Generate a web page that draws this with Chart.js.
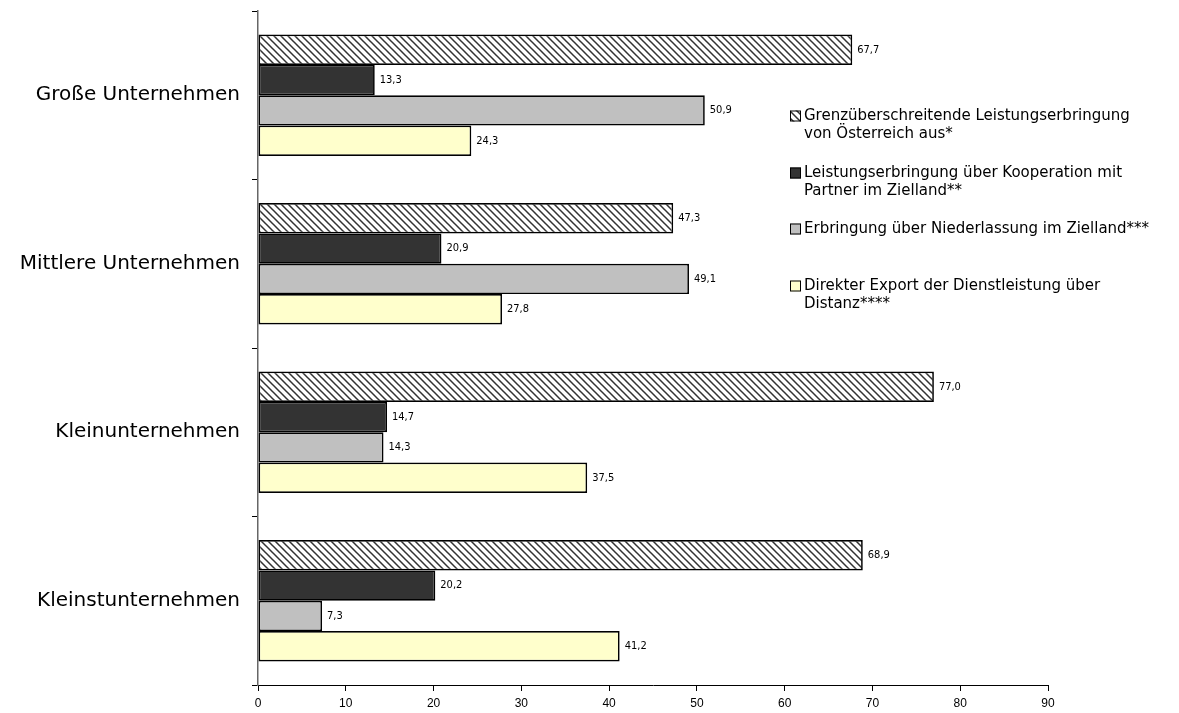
<!DOCTYPE html>
<html>
<head>
<meta charset="utf-8">
<script src="https://cdn.jsdelivr.net/npm/chart.js@4"></script>
<style>
  html, body { margin: 0; padding: 0; background: #fff; }
  #wrap { width: 1179px; height: 713px; position: relative; }
</style>
</head>
<body>
<div id="wrap"><canvas id="chart" width="1179" height="713"></canvas></div>
<script>
// Data
const categories = ['Große Unternehmen', 'Mittlere Unternehmen', 'Kleinunternehmen', 'Kleinstunternehmen'];
const seriesNames = [
    ['Grenzüberschreitende Leistungserbringung', 'von Österreich aus*'],
    ['Leistungserbringung über Kooperation mit', 'Partner im Zielland**'],
    ['Erbringung über Niederlassung im Zielland***'],
    ['Direkter Export der Dienstleistung über', 'Distanz****']
];
const grenz = [67.7, 47.3, 77.0, 68.9];
const kooperation = [13.3, 20.9, 14.7, 20.2];
const niederlassung = [50.9, 49.1, 14.3, 7.3];
const direkt = [24.3, 27.8, 37.5, 41.2];
const xTicks = [0, 10, 20, 30, 40, 50, 60, 70, 80, 90];

const NUM_FONT = "'Liberation Sans Narrow', 'DejaVu Sans Condensed', 'Arial Narrow', sans-serif";
const TICK_FONT = "'Liberation Sans', Arial, sans-serif";
const TXT_FONT = "'DejaVu Sans', sans-serif";

function makeHatch() {
    const s = 7;
    const c = document.createElement('canvas');
    c.width = s; c.height = s;
    const g = c.getContext('2d');
    g.fillStyle = '#fff';
    g.fillRect(0, 0, s, s);
    g.strokeStyle = '#333';
    g.lineWidth = 1.5;
    g.beginPath();
    g.moveTo(-1, -1); g.lineTo(s + 1, s + 1);
    g.moveTo(-1, s - 1); g.lineTo(1, s + 1);
    g.moveTo(s - 1, -1); g.lineTo(s + 1, 1);
    g.stroke();
    return g.createPattern(c, 'repeat');
}
const hatch = makeHatch();
const fills = [hatch, '#333333', '#C0C0C0', '#FFFFCC'];

// value labels at the end of each bar
const valueLabels = {
    id: 'valueLabels',
    afterDatasetsDraw(chart) {
        const ctx = chart.ctx;
        ctx.save();
        ctx.font = '11px ' + NUM_FONT;
        ctx.fillStyle = '#000';
        ctx.textBaseline = 'middle';
        ctx.textAlign = 'left';
        chart.data.datasets.forEach((ds, i) => {
            chart.getDatasetMeta(i).data.forEach((bar, j) => {
                ctx.fillText(ds.data[j].toFixed(1).replace('.', ','), bar.x + 5, bar.y);
            });
        });
        ctx.restore();
    }
};

// legend drawn on the right side
const sideLegend = {
    id: 'sideLegend',
    afterDraw(chart) {
        const ctx = chart.ctx;
        const tops = [116, 173, 229, 286];
        ctx.save();
        ctx.font = '15px ' + TXT_FONT;
        ctx.textBaseline = 'middle';
        ctx.textAlign = 'left';
        seriesNames.forEach((lines, i) => {
            const y = tops[i];
            ctx.fillStyle = fills[i];
            ctx.fillRect(790, y - 5.5, 11, 11);
            ctx.strokeStyle = '#000';
            ctx.lineWidth = 1;
            ctx.strokeRect(790.5, y - 5, 10, 10);
            ctx.fillStyle = '#000';
            lines.forEach((t, k) => ctx.fillText(t, 804, y + k * 18.5));
        });
        ctx.restore();
    }
};

const datasets = [grenz, kooperation, niederlassung, direkt].map((d, i) => ({
    label: seriesNames[i].join(' '),
    data: d,
    backgroundColor: fills[i],
    borderColor: '#000',
    borderWidth: 1.7,
    borderSkipped: false,
    barPercentage: 1,
    categoryPercentage: 0.72
}));

new Chart(document.getElementById('chart'), {
    type: 'bar',
    data: { labels: categories, datasets },
    plugins: [valueLabels, sideLegend],
    options: {
        indexAxis: 'y',
        responsive: false,
        animation: false,
        layout: { padding: { top: 11, right: 131, left: 0, bottom: 0 } },
        plugins: { legend: { display: false }, tooltip: { enabled: false } },
        scales: {
            x: {
                min: 0, max: 90,
                afterBuildTicks: (s) => { s.ticks = xTicks.map(v => ({ value: v })); },
                afterFit: (s) => { s.height = 28; },
                grid: { drawOnChartArea: false, drawTicks: true, tickLength: 6, tickColor: '#000' },
                border: { color: '#000', width: 1 },
                ticks: { color: '#000', font: { family: TICK_FONT, size: 12 }, padding: 5, maxRotation: 0 }
            },
            y: {
                afterFit: (s) => { s.width = 258; s.paddingTop = 0; s.paddingBottom = 0; },
                grid: { drawOnChartArea: false, drawTicks: true, tickLength: 6, tickColor: '#000', offset: true },
                border: { color: '#666', width: 1.5 },
                ticks: { color: '#000', font: { family: TXT_FONT, size: 20 }, padding: 12 }
            }
        }
    }
});
</script>
</body>
</html>
